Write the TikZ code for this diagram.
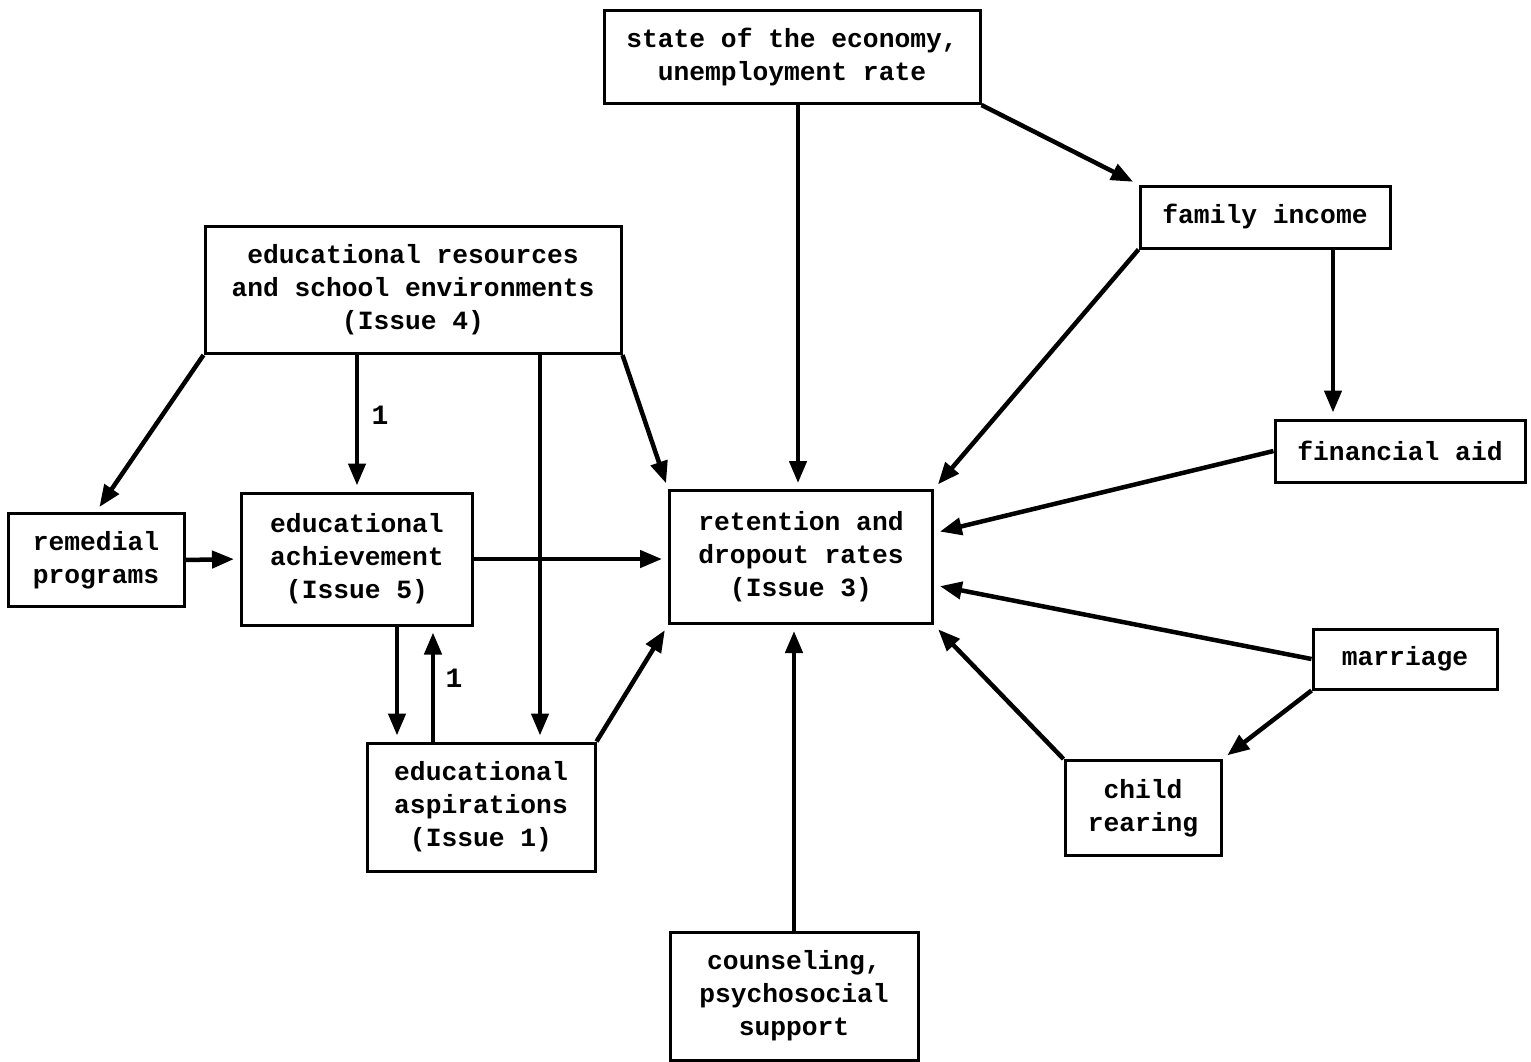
\documentclass[tikz,border=0pt]{standalone}
\usepackage{fontspec}
\setmonofont{Liberation Mono}
\usetikzlibrary{calc,arrows.meta}

\begin{document}
\begin{tikzpicture}[x=1pt,y=-1pt]

% Box and arrow style
\tikzset{
    box/.style={draw, line width=3pt, align=center, inner sep=0pt,
        font=\ttfamily\bfseries\fontsize{26.3}{33}\selectfont},
    link/.style={line width=4.5pt, -{Triangle[length=22pt,width=17pt]}, shorten >=6pt},
    issuemark/.style={font=\ttfamily\bfseries\fontsize{28}{30}\selectfont, inner sep=0pt}
}

\useasboundingbox (0,0) rectangle (1531,1061);

% Boxes
\node[box, minimum width=376pt, minimum height=93pt] (econ) at (792,57) {state of the economy,\\unemployment rate};
\node[box, minimum width=250pt, minimum height=62pt] (income) at (1265,217) {family income};
\node[box, minimum width=416pt, minimum height=127pt] (resources) at (413,290) {educational resources\\and school environments\\(Issue 4)};
\node[box, minimum width=250pt, minimum height=62pt] (aid) at (1400,451) {financial aid};
\node[box, minimum width=176pt, minimum height=93pt] (remedial) at (96,560) {remedial\\programs};
\node[box, minimum width=231pt, minimum height=132pt] (achieve) at (357,559) {educational\\achievement\\(Issue 5)};
\node[box, minimum width=263pt, minimum height=133pt] (retention) at (801,557) {retention and\\dropout rates\\(Issue 3)};
\node[box, minimum width=184pt, minimum height=60pt] (marriage) at (1405,659) {marriage};
\node[box, minimum width=156pt, minimum height=95pt] (rearing) at (1143,808) {child\\rearing};
\node[box, minimum width=228pt, minimum height=128pt] (aspire) at (481,807) {educational\\aspirations\\(Issue 1)};
\node[box, minimum width=248pt, minimum height=128pt] (counsel) at (794,996) {counseling,\\psychosocial\\support};

% Marks
\node[issuemark] (markA) at (380,415) {1};
\node[issuemark] (markB) at (454,678) {1};

% Drop points
\coordinate (econdrop) at ($(econ.south)+(6,0)$);
\coordinate (incdrop) at ($(income.south)+(68,0)$);
\coordinate (resdrop) at ($(resources.south)+(127,0)$);
\coordinate (achdown) at ($(achieve.south)+(40,0)$);
\coordinate (aspup) at ($(aspire.north)+(-48,0)$);

% Connection
\draw[link] (econdrop) -- (econdrop |- retention.north);
\draw[link] (econ.south east) -- (income.north west);
\draw[link] (income.south west) -- (retention.north east);
\draw[link] (incdrop) -- (incdrop |- aid.north);
\draw[link] (aid.west) -- ($(retention.east)+(0,-24)$);
\draw[link] (marriage.west) -- ($(retention.east)+(0,28)$);
\draw[link] (marriage.south west) -- (rearing.north east);
\draw[link] (rearing.north west) -- (retention.south east);
\draw[link] (counsel.north) -- (counsel.north |- retention.south);

\draw[link] (resources.south west) -- (remedial.north);
\draw[link] (achieve.north |- resources.south) -- (achieve.north);
\draw[link] (resdrop) -- (resdrop |- aspire.north);
\draw[link] (resources.south east) -- (retention.north west);
\draw[link] (remedial.east) -- (achieve.west);
\draw[link] (achieve.east) -- (achieve.east -| retention.west);
\draw[link] (achdown) -- (achdown |- aspire.north);
\draw[link] (aspup) -- (aspup |- achieve.south);
\draw[link] (aspire.north east) -- (retention.south west);

\end{tikzpicture}
\end{document}
